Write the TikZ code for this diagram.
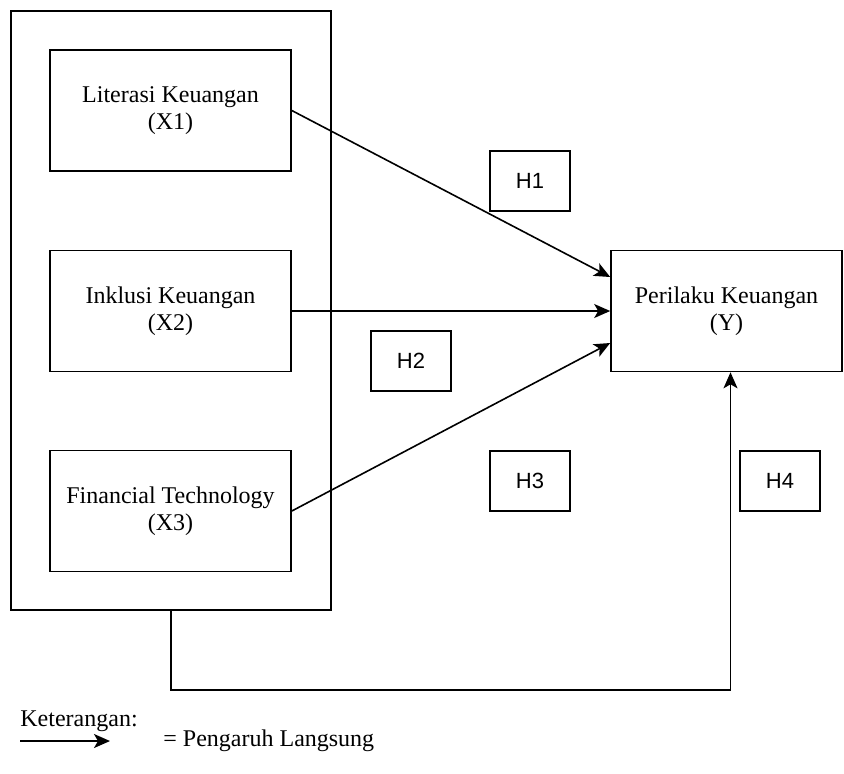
\documentclass[tikz,border=0pt]{standalone}
\usepackage{fontspec}
\setmainfont{Liberation Serif}
\newfontfamily\hypfont{Liberation Sans}
\usetikzlibrary{arrows.meta,positioning}
\tikzset{var/.style={rectangle, draw=black, thick, minimum width=120.5pt, minimum height=60.5pt, align=center, font=\fontsize{12}{13.5}\selectfont}}
\tikzset{hyp/.style={rectangle, draw=black, thick, minimum width=40pt, minimum height=30pt, font=\hypfont\fontsize{11}{13}\selectfont}}
\tikzset{arr/.style={thick, -{Stealth[length=8pt, width=7pt, inset=2pt]}}}
\tikzset{txt/.style={anchor=west, inner sep=0pt, font=\fontsize{12}{14}\selectfont}}

\begin{document}
\begin{tikzpicture}[x=0.5pt, y=-0.5pt]
\useasboundingbox (0,0) rectangle (844,773);
% independent variables
\node[rectangle, draw=black, thick, minimum width=160pt, minimum height=299.5pt] (outer) at (171,310.5) {};
\node[var] (x1) at (170.5,110.5) {Literasi Keuangan\\(X1)};
\node[var] (x2) at (170.5,311) {Inklusi Keuangan\\(X2)};
\node[var] (x3) at (170.5,511) {Financial Technology\\(X3)};
% dependent variable
\node[var, minimum width=115.5pt] (y) at (726.5,311) {Perilaku Keuangan\\(Y)};
% hypotheses
\node[hyp] (h1) at (530,181) {H1};
\node[hyp] (h2) at (411,361) {H2};
\node[hyp] (h3) at (530,481) {H3};
\node[hyp] (h4) at (780,481) {H4};
% paths
\draw[arr] (x1.east) -- ([yshift=17pt]y.west);
\draw[arr] (x2.east) -- (y.west);
\draw[arr] (x3.east) -- ([yshift=-16pt]y.west);
\coordinate (c1) at (171,690);
\draw[arr] (outer.south) -- (c1) -| ([xshift=2pt]y.south);
% legend
\node[txt] (ket) at (20,721) {Keterangan:};
\coordinate (l1) at (20,741);
\coordinate (l2) at (110,741);
\draw[arr] (l1) -- (l2);
\node[txt] (pl) at (163,741) {= Pengaruh Langsung};
\end{tikzpicture}
\end{document}
